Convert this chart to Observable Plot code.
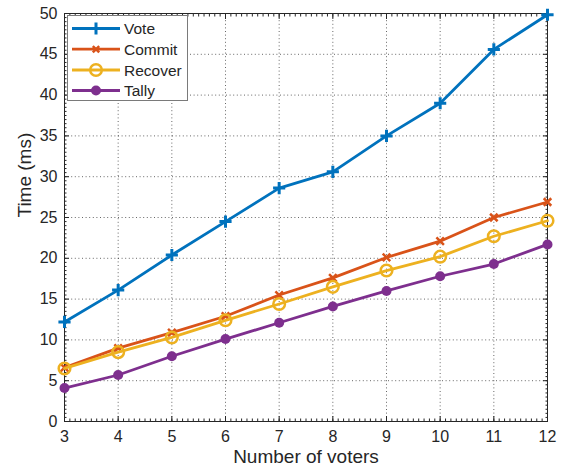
<!DOCTYPE html>
<html>
<head>
<meta charset="utf-8">
<script src="https://cdn.jsdelivr.net/npm/d3@7"></script>
<script src="https://cdn.jsdelivr.net/npm/@observablehq/plot@0.6"></script>
<style>
  body { margin: 0; background: #fff; font-family: "Liberation Sans", Arial, sans-serif; }
  #chart { position: relative; width: 569px; height: 472px; }
  #legend { position: absolute; left: 67px; top: 15px; }
</style>
</head>
<body>
<div id="chart"><div id="legend"></div></div>
<script>
// Timing per phase against the number of voters
const voters  = [3, 4, 5, 6, 7, 8, 9, 10, 11, 12];
const vote    = [12.2, 16.1, 20.4, 24.5, 28.6, 30.6, 35.0, 39.0, 45.6, 49.85];
const commit  = [6.6, 9.0, 10.9, 12.9, 15.5, 17.6, 20.1, 22.1, 25.0, 26.9];
const recover = [6.5, 8.5, 10.3, 12.4, 14.4, 16.5, 18.5, 20.2, 22.7, 24.6];
const tally   = [4.1, 5.7, 8.0, 10.1, 12.1, 14.1, 16.0, 17.8, 19.3, 21.7];

const seriesNames  = ["Vote", "Commit", "Recover", "Tally"];
const seriesValues = [vote, commit, recover, tally];
const yTicks = [0, 5, 10, 15, 20, 25, 30, 35, 40, 45, 50];

const ink = "#262626";
const font = "'Liberation Sans', Arial, sans-serif";
const styles = {
  Vote:    {color: "#0072BD", symbol: "plus",   r: 4,   sw: 3,   filled: false},
  Commit:  {color: "#D95319", symbol: "times",  r: 3.5, sw: 2.5, filled: false},
  Recover: {color: "#EDB120", symbol: "circle", r: 5.8, sw: 2.5, filled: false},
  Tally:   {color: "#7E2F8E", symbol: "circle", r: 5,   sw: 0,   filled: true}
};

const rows = seriesNames.flatMap((name, s) =>
  voters.map((v, i) => ({series: name, voters: v, time: seriesValues[s][i]})));

const minorX = d3.range(30, 121).map(d => d / 10);
const minorY = d3.range(0, 101).map(d => d / 2);

const seriesMarks = seriesNames.flatMap(name => {
  const st = styles[name];
  const data = rows.filter(d => d.series === name);
  return [
    Plot.line(data, {x: "voters", y: "time", stroke: st.color, strokeWidth: 2.8}),
    st.filled
      ? Plot.dot(data, {x: "voters", y: "time", r: st.r, fill: st.color, stroke: "none", symbol: st.symbol})
      : Plot.dot(data, {x: "voters", y: "time", r: st.r, fill: "none", stroke: st.color, strokeWidth: st.sw, symbol: st.symbol})
  ];
});

const chart = Plot.plot({
  width: 569,
  height: 472,
  marginLeft: 64,
  marginRight: 22,
  marginTop: 13,
  marginBottom: 51,
  style: {fontFamily: font, fontSize: "16px", color: ink, background: "#fff"},
  x: {domain: [3, 12]},
  y: {domain: [0, 50]},
  marks: [
    Plot.gridX(voters, {stroke: "#000", strokeOpacity: 0.6, strokeDasharray: "1,2.6", strokeWidth: 1}),
    Plot.gridY(yTicks, {stroke: "#000", strokeOpacity: 0.6, strokeDasharray: "1,2.6", strokeWidth: 1}),
    // minor ticks, inward on all four sides
    Plot.axisX(minorX, {anchor: "bottom", tickSize: -2.5, text: null, label: null, stroke: ink}),
    Plot.axisX(minorX, {anchor: "top", tickSize: -2.5, text: null, label: null, stroke: ink}),
    Plot.axisY(minorY, {anchor: "left", tickSize: -2.5, text: null, label: null, stroke: ink}),
    Plot.axisY(minorY, {anchor: "right", tickSize: -2.5, text: null, label: null, stroke: ink}),
    // major ticks, inward
    Plot.axisX(voters, {anchor: "bottom", tickSize: -5, text: null, label: null, stroke: ink}),
    Plot.axisX(voters, {anchor: "top", tickSize: -5, text: null, label: null, stroke: ink}),
    Plot.axisY(yTicks, {anchor: "left", tickSize: -5, text: null, label: null, stroke: ink}),
    Plot.axisY(yTicks, {anchor: "right", tickSize: -5, text: null, label: null, stroke: ink}),
    // tick labels
    Plot.axisX(voters, {anchor: "bottom", tickSize: 0, tickPadding: 9, label: null, fill: ink, fontSize: 16}),
    Plot.axisY(yTicks, {anchor: "left", tickSize: 0, tickPadding: 7, label: null, fill: ink, fontSize: 16}),
    Plot.frame({stroke: ink, strokeWidth: 1}),
    ...seriesMarks,
    Plot.text(["Number of voters"], {frameAnchor: "bottom", dy: 41, fontSize: 19, fill: ink}),
    Plot.text(["Time (ms)"], {frameAnchor: "left", dx: -40, rotate: -90, fontSize: 19, fill: ink})
  ]
});

document.getElementById("chart").prepend(chart);

// Legend box in the upper-left corner of the axes
const symbolTypes = {plus: d3.symbolPlus, times: d3.symbolTimes, circle: d3.symbolCircle};
const lg = d3.select("#legend").append("svg")
  .attr("width", 121).attr("height", 86)
  .style("display", "block");
lg.append("rect")
  .attr("x", 0.5).attr("y", 0.5).attr("width", 120).attr("height", 85)
  .attr("fill", "#fff").attr("stroke", "#7a7a7a").attr("stroke-width", 1);
const rowY = [13.5, 34.2, 55, 75.5];
seriesNames.forEach((name, i) => {
  const st = styles[name];
  const g = lg.append("g").attr("transform", `translate(0,${rowY[i]})`);
  g.append("line").attr("x1", 5).attr("x2", 53).attr("y1", 0).attr("y2", 0)
    .attr("stroke", st.color).attr("stroke-width", 2.8);
  const r = name === "Commit" ? 3 : st.r;
  const path = d3.symbol(symbolTypes[st.symbol], r * r * Math.PI)();
  g.append("path").attr("d", path).attr("transform", "translate(29,0)")
    .attr("fill", st.filled ? st.color : "none")
    .attr("stroke", st.filled ? "none" : st.color)
    .attr("stroke-width", st.sw);
  g.append("text").attr("x", 57).attr("y", 0).attr("dy", "0.36em")
    .attr("fill", ink).style("font-size", "15.5px")
    .style("font-family", font)
    .text(name);
});
</script>
</body>
</html>
